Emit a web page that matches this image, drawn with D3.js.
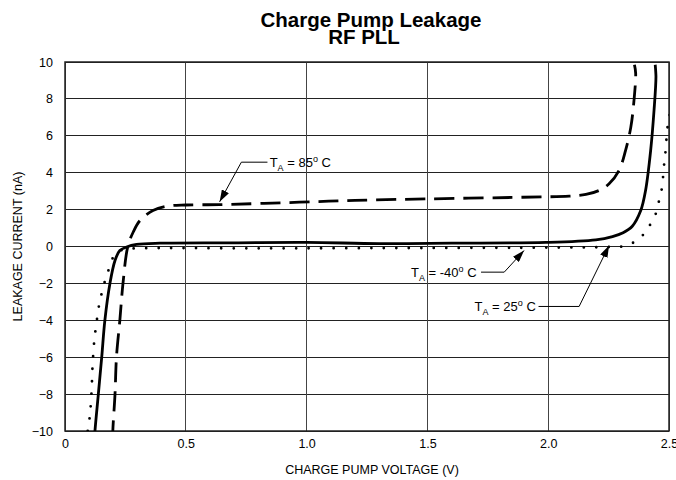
<!DOCTYPE html>
<html>
<head>
<meta charset="utf-8">
<script src="https://cdn.jsdelivr.net/npm/d3@7/dist/d3.min.js"></script>
<style>
  html, body { margin: 0; padding: 0; background: #fff; }
  svg { display: block; font-family: "Liberation Sans", Arial, sans-serif; }
</style>
</head>
<body>
<svg id="chart" width="676" height="480"></svg>
<script>
// ---- Data ----
const titleLines = ["Charge Pump Leakage", "RF PLL"];
const xLabel = "CHARGE PUMP VOLTAGE (V)";
const yLabel = "LEAKAGE CURRENT (nA)";
const xTicks = [0, 0.5, 1.0, 1.5, 2.0, 2.5];
const xTickLabels = ["0", "0.5", "1.0", "1.5", "2.0", "2.5"];
const yTicks = [-10, -8, -6, -4, -2, 0, 2, 4, 6, 8, 10];

// 85°C (dashed) [V, nA]
const t85 = [[0.198,-10.5],[0.198,-10],[0.207,-8],[0.213,-6],[0.227,-4],[0.24,-2],[0.26,0],[0.283,0.8],[0.31,1.4],[0.364,1.95],[0.42,2.18],[0.5,2.25],[0.64,2.27],[0.97,2.4],[1.2,2.5],[1.5,2.58],[1.894,2.67],[2.087,2.73],[2.156,2.82],[2.211,3.04],[2.252,3.4],[2.293,4.12],[2.32,5.2],[2.342,6.47],[2.355,7.9],[2.362,9.4],[2.357,9.85]];
// 25°C (solid)
const t25 = [[0.122,-10.5],[0.124,-10],[0.138,-8],[0.152,-6],[0.165,-4],[0.186,-2],[0.207,-0.76],[0.227,-0.22],[0.255,-0.03],[0.296,0.11],[0.393,0.18],[0.7,0.2],[1.0,0.22],[1.3,0.16],[1.6,0.18],[1.99,0.22],[2.197,0.36],[2.266,0.54],[2.31,0.75],[2.348,1.1],[2.383,1.95],[2.403,3.04],[2.424,5.2],[2.438,7.37],[2.446,9.2],[2.443,9.85]];
// -40°C (dotted)
const tm40 = [[0.094,-10],[0.103,-9.16],[0.11,-7.84],[0.114,-6.49],[0.121,-5.13],[0.127,-4.46],[0.134,-3.79],[0.142,-3.11],[0.153,-2.48],[0.167,-1.8],[0.183,-1.18],[0.204,-0.49],[0.241,-0.16],[0.3,-0.1],[0.8,-0.1],[1.5,-0.08],[2.0,-0.06],[2.25,-0.03],[2.307,0],[2.355,0.23],[2.397,0.69],[2.424,1.23],[2.445,1.77],[2.459,2.49],[2.47,3.12],[2.48,4.48],[2.486,5.2],[2.494,6.47],[2.51,7.6]];

// annotations: label temp, text anchor point, line start, elbow, arrow tip (data units)
const annotations = [
  { temp: "85", text: [0.847, 4.57], lineStart: [0.838, 4.57], elbow: [0.73, 4.57], tip: [0.64, 2.42] },
  { temp: "-40", text: [1.432, -1.39], lineStart: [1.722, -1.39], elbow: [1.818, -1.39], tip: [1.90, -0.22] },
  { temp: "25", text: [1.695, -3.25], lineStart: [1.96, -3.25], elbow: [2.128, -3.25], tip: [2.252, 0.06] }
];

// ---- Layout ----
const svg = d3.select("#chart");
const x = d3.scaleLinear().domain([0, 2.5]).range([65, 669]);
const y = d3.scaleLinear().domain([-10, 10]).range([431, 62]);

// title
svg.append("text").attr("x", 371).attr("y", 27).attr("text-anchor", "middle")
  .attr("font-size", 20.5).attr("font-weight", "bold").text(titleLines[0]);
svg.append("text").attr("x", 364).attr("y", 44).attr("text-anchor", "middle")
  .attr("font-size", 20.5).attr("font-weight", "bold").text(titleLines[1]);

// clip
svg.append("defs").append("clipPath").attr("id", "clip")
  .append("rect").attr("x", x(0)).attr("y", y(10)).attr("width", x(2.5) - x(0)).attr("height", y(-10) - y(10));

svg.select("defs").append("marker").attr("id", "arrow")
  .attr("viewBox", "0 0 12 8").attr("refX", 12).attr("refY", 4)
  .attr("markerWidth", 12).attr("markerHeight", 8).attr("markerUnits", "userSpaceOnUse")
  .attr("orient", "auto")
  .append("path").attr("d", "M0,0 L12,4 L0,8 Z").attr("fill", "#000");

// grid
const grid = svg.append("g");
grid.selectAll("line.h").data(yTicks).join("line")
  .attr("x1", x(0)).attr("x2", x(2.5)).attr("y1", d => y(d)).attr("y2", d => y(d))
  .attr("stroke", "#222").attr("stroke-width", 1).attr("shape-rendering", "crispEdges");
grid.selectAll("line.v").data(xTicks).join("line")
  .attr("y1", y(-10)).attr("y2", y(10)).attr("x1", d => x(d)).attr("x2", d => x(d))
  .attr("stroke", "#444").attr("stroke-width", 1).attr("shape-rendering", "crispEdges");
svg.append("rect").attr("x", x(0)).attr("y", y(10)).attr("width", x(2.5) - x(0)).attr("height", y(-10) - y(10))
  .attr("fill", "none").attr("stroke", "#222").attr("stroke-width", 1.5);

// axes labels via d3 axes
const yAxis = d3.axisLeft(y).tickValues(yTicks).tickSize(0).tickPadding(12).tickFormat(d3.format("d"));
const gy = svg.append("g").attr("transform", `translate(${x(0)},0)`).call(yAxis);
const xAxis = d3.axisBottom(x).tickValues(xTicks).tickSize(0).tickPadding(8).tickFormat((d, i) => xTickLabels[i]);
const gx = svg.append("g").attr("transform", `translate(0,${y(-10)})`).call(xAxis);
[gx, gy].forEach(g => {
  g.select(".domain").remove();
  g.selectAll("text").attr("font-size", 12.5).attr("fill", "#000")
    .attr("font-family", "'Liberation Sans', Arial, sans-serif");
});

svg.append("text").attr("x", 372).attr("y", 474).attr("text-anchor", "middle")
  .attr("font-size", 12.5).text(xLabel);
svg.append("text").attr("transform", `translate(22,${y(0)}) rotate(-90)`).attr("text-anchor", "middle")
  .attr("font-size", 12.5).text(yLabel);

// curves
const line = d3.line().x(d => x(d[0])).y(d => y(d[1])).curve(d3.curveCatmullRom.alpha(0.5));
const plot = svg.append("g").attr("clip-path", "url(#clip)");
plot.append("path").datum(tm40).attr("d", line).attr("fill", "none").attr("stroke", "#000")
  .attr("stroke-width", 2.8).attr("stroke-linecap", "round").attr("stroke-dasharray", "0 12.5");
plot.append("path").datum(t25).attr("d", line).attr("fill", "none").attr("stroke", "#000")
  .attr("stroke-width", 2.8);
plot.append("path").datum(t85).attr("d", line).attr("fill", "none").attr("stroke", "#000")
  .attr("stroke-width", 2.8).attr("stroke-dasharray", "20 9");

// annotations
const ann = svg.append("g");
annotations.forEach(a => {
  ann.append("polyline")
    .attr("points", [a.lineStart, a.elbow, a.tip].map(p => `${x(p[0])},${y(p[1])}`).join(" "))
    .attr("fill", "none").attr("stroke", "#000").attr("stroke-width", 1)
    .attr("marker-end", "url(#arrow)");
  const t = ann.append("text").attr("x", x(a.text[0])).attr("y", y(a.text[1]) + 4.5).attr("font-size", 13);
  t.append("tspan").text("T");
  t.append("tspan").attr("font-size", 9).attr("dy", 4).text("A");
  t.append("tspan").attr("dy", -4).text(" = " + a.temp);
  t.append("tspan").attr("font-size", 9).attr("dy", -5).text("o");
  t.append("tspan").attr("dy", 5).text(" C");
});
</script>
</body>
</html>
